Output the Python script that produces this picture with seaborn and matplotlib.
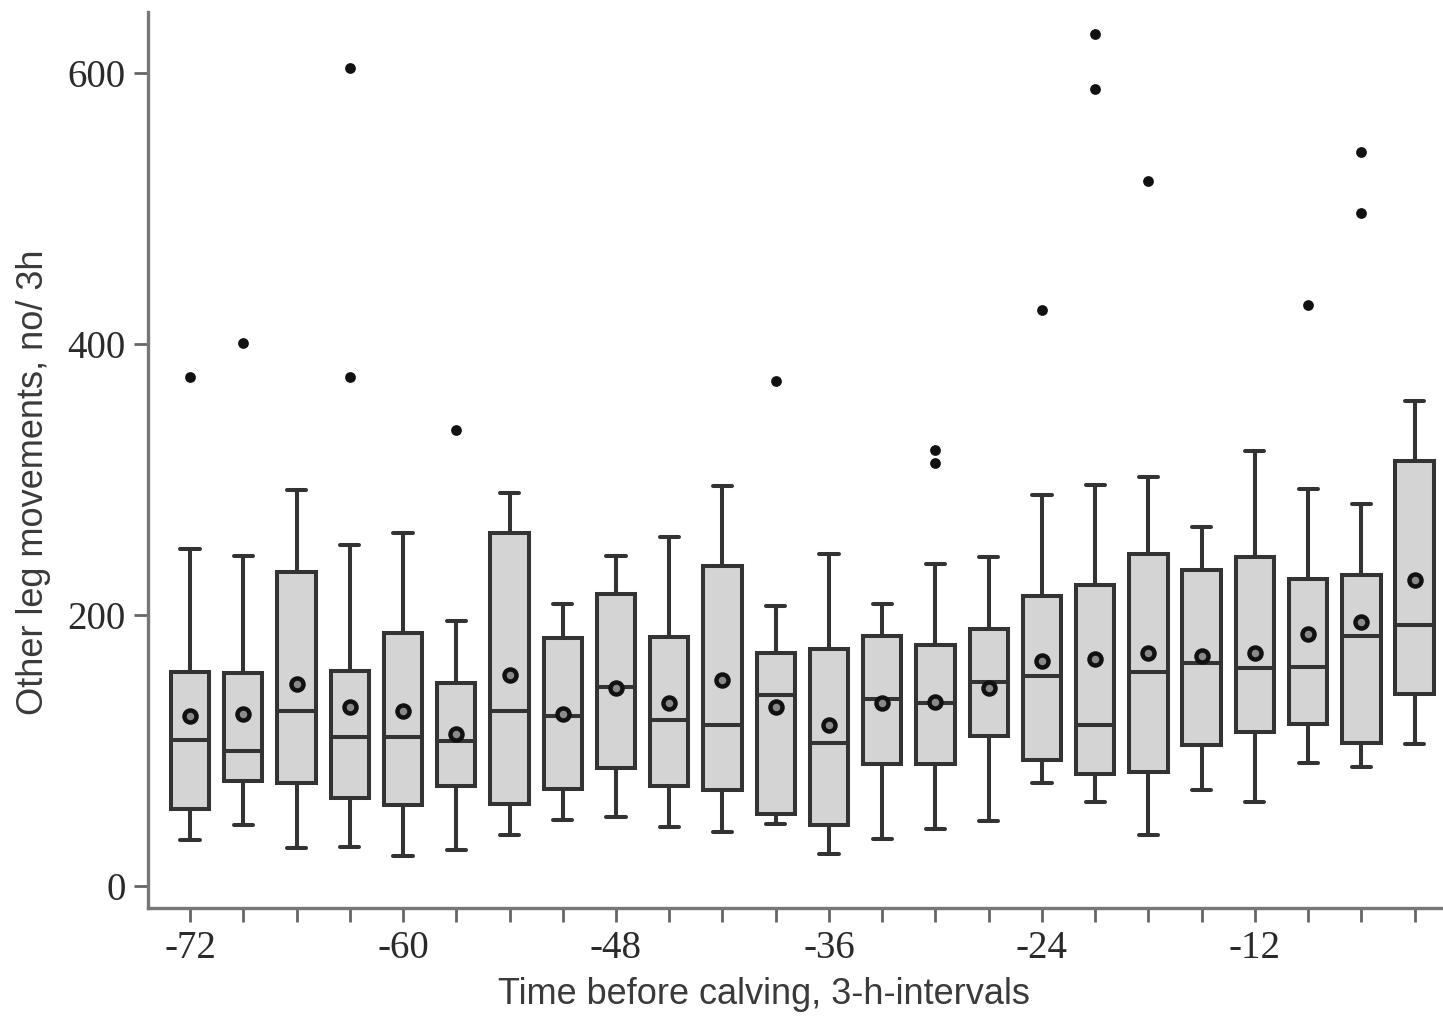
import numpy as np
import pandas as pd
import matplotlib
matplotlib.use("Agg")
import matplotlib.pyplot as plt
import seaborn as sns

# ---- data ----
times = [-72, -69, -66, -63, -60, -57, -54, -51, -48, -45, -42, -39,
         -36, -33, -30, -27, -24, -21, -18, -15, -12, -9, -6, -3]
whislo = [34, 45, 28, 29, 22, 27, 38, 49, 51, 44, 40, 46,
          24, 35, 42, 48, 76, 62, 38, 71, 62, 91, 88, 105]
q1 = [57, 78, 76, 65, 60, 74, 61, 72, 87, 74, 71, 53,
      45, 90, 90, 111, 93, 83, 84, 104, 114, 120, 106, 142]
medians = [108, 100, 129, 110, 110, 107, 129, 126, 147, 123, 119, 141,
           106, 138, 135, 151, 155, 119, 158, 165, 161, 162, 185, 193]
q3 = [158, 157, 232, 159, 187, 150, 261, 183, 216, 184, 236, 172,
      175, 185, 178, 190, 214, 222, 245, 233, 243, 227, 230, 314]
whishi = [249, 244, 292, 252, 261, 196, 290, 208, 244, 258, 295, 207,
          245, 208, 238, 243, 289, 296, 302, 265, 321, 293, 282, 358]
means = [126, 127, 149, 132, 129, 112, 156, 127, 146, 135, 152, 132,
         119, 135, 136, 146, 166, 168, 172, 170, 172, 186, 195, 226]
outlier_times = [-72, -69, -63, -63, -57, -39, -30, -30, -24, -21, -21, -18, -9, -6, -6]
outlier_values = [376, 401, 376, 604, 337, 373, 322, 312, 425, 629, 588, 520, 429, 542, 497]
y_ticks = [0, 200, 400, 600]
x_label_ticks = [-72, -60, -48, -36, -24, -12]

# five-number summaries -> long-form table (quartiles reproduce exactly)
rows = []
for t, a, b, c, d, e in zip(times, whislo, q1, medians, q3, whishi):
    for v in (a, b, c, d, e):
        rows.append({"time": t, "value": v})
boxdf = pd.DataFrame(rows)

sns.set_style("ticks")
plt.rcParams["font.family"] = ["Liberation Sans", "DejaVu Sans"]

fig = plt.figure(figsize=(14.43, 10.23), dpi=100)
ax = fig.add_axes([148 / 1443, 1 - 908 / 1023, 1 - 148 / 1443, (908 - 12) / 1023])

box_edge = "#333333"
sns.boxplot(data=boxdf, x="time", y="value", native_scale=True, whis=(0, 100),
            width=0.72, color="#d4d4d4", linecolor=box_edge, linewidth=2.9,
            showfliers=False, saturation=1, ax=ax)

sns.scatterplot(x=times, y=means, marker="o", s=75, color="#8a8a8a",
                edgecolor="#111111", linewidth=3.2, zorder=5, ax=ax)
sns.scatterplot(x=outlier_times, y=outlier_values, marker="o", s=60,
                color="#111111", edgecolor="#111111", linewidth=0, zorder=5, ax=ax)

ax.set_xlim(-74.37, -1.4)
ax.set_ylim(-16, 645)

ax.set_xticks(times)
ax.set_xticklabels([str(t) if t in x_label_ticks else "" for t in times])
ax.set_yticks(y_ticks)
ax.set_yticklabels([str(v) for v in y_ticks])

for lab in ax.get_xticklabels() + ax.get_yticklabels():
    lab.set_fontfamily("Liberation Serif")
    lab.set_fontsize(28)
    lab.set_color("#2a2a2a")

spine_col = "#777777"
for s in ["top", "right"]:
    ax.spines[s].set_visible(False)
for s in ["left", "bottom"]:
    ax.spines[s].set_color(spine_col)
    ax.spines[s].set_linewidth(2.4)
ax.tick_params(axis="both", length=10, width=2.0, color="#666666", pad=6)

ax.set_xlabel("Time before calving, 3-h-intervals", fontsize=26, color="#3a3a3a",
              labelpad=10)
ax.set_ylabel("Other leg movements, no/ 3h", fontsize=26, color="#3a3a3a",
              labelpad=12)
ax.xaxis.set_label_coords(0.476, -0.077)
ax.yaxis.set_label_coords(-0.075, 0.475)

fig.savefig("out.png", dpi=100)
